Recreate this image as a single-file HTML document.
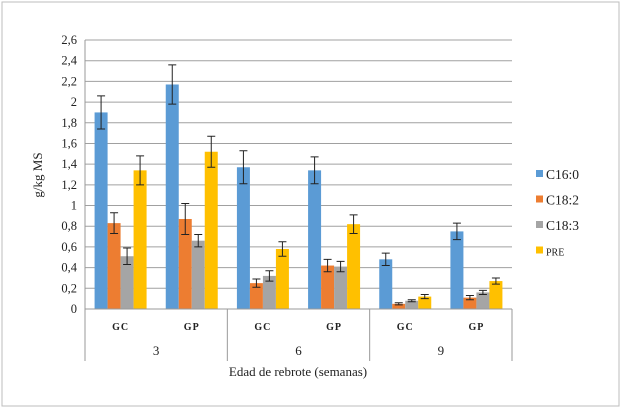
<!DOCTYPE html>
<html><head><meta charset="utf-8"><style>
body{margin:0;background:#fff;}
svg{display:block;font-family:"Liberation Serif",serif;}
</style></head><body>
<svg id="chart" width="622" height="409">
<rect x="2" y="2" width="617" height="404" fill="#fff" stroke="#bdbdbd"/>
<g id="grid"></g><g id="bars"></g><g id="axes"></g><g id="legend"></g>
<text x="0" y="0" transform="translate(42,175) rotate(-90)" text-anchor="middle" font-size="13" fill="#222">g/kg MS</text>
<text x="298" y="376" text-anchor="middle" font-size="13" fill="#222">Edad de rebrote (semanas)</text>
</svg>
<script>
const categories=["GC","GP","GC","GP","GC","GP"];
const groups=["3","6","9"];
const seriesNames=["C16:0","C18:2","C18:3","PRE"];
const c160=[1.9,2.17,1.37,1.34,0.48,0.75];
const c182=[0.83,0.87,0.25,0.42,0.05,0.11];
const c183=[0.51,0.66,0.32,0.41,0.08,0.16];
const pre=[1.34,1.52,0.58,0.82,0.12,0.27];
const c160e=[0.16,0.19,0.16,0.13,0.06,0.08];
const c182e=[0.1,0.15,0.04,0.06,0.01,0.02];
const c183e=[0.08,0.06,0.05,0.05,0.01,0.02];
const preE=[0.14,0.15,0.07,0.09,0.02,0.03];
const yTicks=["0","0,2","0,4","0,6","0,8","1","1,2","1,4","1,6","1,8","2","2,2","2,4","2,6"];
const NS="http://www.w3.org/2000/svg";
const L=85,R=512,T=40,B=309,yMax=2.6;
const y=v=>B-(v/yMax)*(B-T);
const cw=(R-L)/categories.length;
const x=i=>L+cw*i;
function mk(t,a,p){const e=document.createElementNS(NS,t);for(const k in a)e.setAttribute(k,a[k]);p.appendChild(e);return e;}
const grid=document.getElementById('grid'),bars=document.getElementById('bars'),axes=document.getElementById('axes'),leg=document.getElementById('legend');
yTicks.forEach((t,i)=>{const v=i*0.2;const yy=y(v);
 const g=mk('line',{x1:L,x2:R,y1:yy,y2:yy,stroke:i==0?'#999':'#a0a0a0','stroke-width':1},grid);
 
 
 const tx=mk('text',{x:77,y:yy+4,'text-anchor':'end','font-size':12.5,fill:'#222'},axes);tx.textContent=t;
 
 
});
const al=mk('line',{x1:L,x2:L,y1:T,y2:B,stroke:'#999'},axes);


const colors=['#5b9bd5','#ed7d31','#a5a5a5','#ffc000'];
const vals=[c160,c182,c183,pre],errs=[c160e,c182e,c183e,preE];
const bw=13;
categories.forEach((c,i)=>{
 const cx=x(i)+cw/2;const start=cx-2*bw;
 vals.forEach((s,k)=>{const bx=start+k*bw;
  const r=mk('rect',{x:bx,y:y(s[i]),width:bw,height:B-y(s[i]),fill:colors[k]},bars);
  
  
  const m=bx+bw/2,hi=y(s[i]+errs[k][i]),lo=y(s[i]-errs[k][i]);
  const eb=mk('path',{d:`M${m},${hi}V${lo}M${m-4},${hi}H${m+4}M${m-4},${lo}H${m+4}`,stroke:'#222','stroke-width':1,fill:'none'},bars);
  
  
 });
 const tl=mk('text',{x:cx,y:330,'text-anchor':'middle','font-size':10,'font-weight':'bold','letter-spacing':'1',fill:'#222'},axes);tl.textContent=c;
 
 
});
for(let g=0;g<=groups.length;g++){const xx=x(g*2);
 const d=mk('line',{x1:xx,x2:xx,y1:B,y2:361,stroke:'#999'},axes);
 
 
}
const ml=mk('line',{x1:L,x2:R,y1:B,y2:B,stroke:'#999'},axes);


groups.forEach((g,i)=>{const t=mk('text',{x:x(i*2)+cw,y:355,'text-anchor':'middle','font-size':13,fill:'#222'},axes);t.textContent=g;
 
 
});
seriesNames.forEach((n,k)=>{const ly=174+k*25.5;
 const s=mk('rect',{x:536,y:ly-4,width:7,height:7,fill:colors[k]},leg);
 
 
 const t=mk('text',{x:546,y:ly+5,'font-size':n=='PRE'?10:13.5,fill:'#222'},leg);t.textContent=n;
 
 
});
</script>
</body></html>
